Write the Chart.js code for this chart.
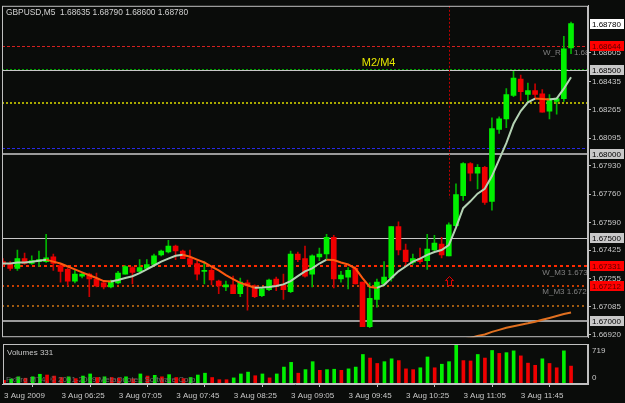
<!DOCTYPE html>
<html>
<head>
<meta charset="utf-8">
<title>GBPUSD,M5</title>
<script src="https://cdn.jsdelivr.net/npm/chart.js@4.4.0/dist/chart.umd.min.js"></script>
<style>
  html, body { margin: 0; padding: 0; background: #0a0c0a; }
  #wrap { position: relative; width: 625px; height: 403px; overflow: hidden; }
  #priceChart { position: absolute; left: 0; top: 0; }
  #volChart { position: absolute; left: 0; top: 343px; }
</style>
</head>
<body>
<div id="wrap">
  <canvas id="priceChart" width="625" height="343"></canvas>
  <canvas id="volChart" width="625" height="60"></canvas>
</div>
<script>
// GBPUSD M5, 3 Aug 2009 05:45 .. 12:20 (80 bars)

var opens = [1.67356,1.67345,1.67316,1.67374,1.67345,1.67356,1.67356,1.67385,1.67333,1.67310,
  1.67240,1.67269,1.67281,1.67252,1.67229,1.67205,1.67229,1.67281,1.67321,1.67298,
  1.67316,1.67339,1.67397,1.67414,1.67449,1.67420,1.67374,1.67345,1.67298,1.67304,
  1.67240,1.67205,1.67217,1.67165,1.67229,1.67211,1.67153,1.67188,1.67252,1.67217,
  1.67176,1.67402,1.67374,1.67281,1.67385,1.67402,1.67502,1.67252,1.67263,1.67316,
  1.67234,1.66967,1.67130,1.67223,1.67258,1.67566,1.67426,1.67351,1.67374,1.67362,
  1.67426,1.67461,1.67391,1.67571,1.67751,1.67943,1.67885,1.67920,1.67717,1.68147,
  1.68210,1.68350,1.68449,1.68356,1.68379,1.68361,1.68257,1.68315,1.68332,1.68635];
var highs = [1.67374,1.67356,1.67426,1.67408,1.67391,1.67420,1.67519,1.67402,1.67345,1.67316,
  1.67310,1.67287,1.67287,1.67287,1.67240,1.67246,1.67298,1.67333,1.67327,1.67368,
  1.67368,1.67402,1.67426,1.67484,1.67455,1.67426,1.67426,1.67362,1.67356,1.67316,
  1.67246,1.67240,1.67269,1.67258,1.67246,1.67217,1.67199,1.67252,1.67263,1.67281,
  1.67420,1.67414,1.67449,1.67397,1.67438,1.67519,1.67513,1.67298,1.67321,1.67327,
  1.67234,1.67229,1.67252,1.67356,1.67566,1.67595,1.67461,1.67402,1.67438,1.67519,
  1.67513,1.67502,1.67589,1.67821,1.67949,1.67949,1.67937,1.67926,1.68216,1.68222,
  1.68391,1.68495,1.68472,1.68425,1.68420,1.68385,1.68356,1.68338,1.68704,1.68790];
var lows = [1.67327,1.67304,1.67304,1.67339,1.67339,1.67327,1.67351,1.67304,1.67234,1.67211,
  1.67229,1.67258,1.67147,1.67205,1.67193,1.67199,1.67223,1.67281,1.67223,1.67292,
  1.67310,1.67333,1.67391,1.67408,1.67368,1.67374,1.67339,1.67246,1.67223,1.67217,
  1.67165,1.67182,1.67165,1.67147,1.67066,1.67141,1.67147,1.67182,1.67182,1.67130,
  1.67170,1.67356,1.67263,1.67205,1.67362,1.67374,1.67199,1.67234,1.67193,1.67223,
  1.66967,1.66961,1.67083,1.67211,1.67240,1.67397,1.67327,1.67339,1.67345,1.67310,
  1.67420,1.67379,1.67391,1.67560,1.67722,1.67839,1.67792,1.67699,1.67664,1.68123,
  1.68158,1.68344,1.68321,1.68309,1.68332,1.68251,1.68210,1.68239,1.68315,1.68600];
var closes = [1.67339,1.67316,1.67374,1.67345,1.67362,1.67368,1.67379,1.67345,1.67298,1.67240,
  1.67281,1.67281,1.67252,1.67211,1.67205,1.67240,1.67287,1.67327,1.67292,1.67321,
  1.67339,1.67391,1.67420,1.67449,1.67420,1.67374,1.67339,1.67281,1.67304,1.67246,
  1.67211,1.67217,1.67165,1.67234,1.67211,1.67147,1.67193,1.67246,1.67211,1.67188,
  1.67402,1.67368,1.67269,1.67391,1.67402,1.67502,1.67252,1.67275,1.67304,1.67223,
  1.66967,1.67136,1.67234,1.67263,1.67566,1.67426,1.67356,1.67374,1.67356,1.67432,
  1.67467,1.67397,1.67577,1.67757,1.67943,1.67885,1.67920,1.67711,1.68152,1.68210,
  1.68356,1.68454,1.68373,1.68379,1.68356,1.68251,1.68332,1.68332,1.68629,1.68780];

// fast moving average (colour follows its direction)
var maFast = [1.67345,1.67345,1.67351,1.67351,1.67356,1.67362,1.67368,1.67356,1.67345,1.67327,
  1.67310,1.67292,1.67275,1.67258,1.67240,1.67237,1.67246,1.67258,1.67269,1.67287,
  1.67310,1.67333,1.67356,1.67374,1.67391,1.67397,1.67385,1.67368,1.67351,1.67327,
  1.67304,1.67275,1.67252,1.67229,1.67215,1.67200,1.67202,1.67205,1.67210,1.67220,
  1.67240,1.67269,1.67298,1.67316,1.67345,1.67368,1.67366,1.67351,1.67339,1.67316,
  1.67258,1.67205,1.67199,1.67217,1.67258,1.67298,1.67327,1.67356,1.67374,1.67397,
  1.67414,1.67426,1.67455,1.67560,1.67676,1.67717,1.67763,1.67792,1.67868,1.67966,
  1.68065,1.68181,1.68257,1.68309,1.68332,1.68330,1.68327,1.68332,1.68391,1.68460];
// slow moving average, only its tail enters the window (bars 64..79)
var maSlowStart = 64;
var maSlow = [1.66890,1.66900,1.66912,1.66920,1.66936,1.66948,1.66960,1.66970,1.66979,
  1.66987,1.66996,1.67008,1.67019,1.67031,1.67043,1.67052];

var volumes = [67,93,133,107,133,180,166,147,120,133,
  100,147,186,120,133,120,107,133,93,186,
  147,160,133,173,120,100,120,166,200,120,
  80,79,113,186,220,153,186,113,186,313,
  400,200,266,413,253,266,273,253,280,313,
  546,480,380,413,466,433,280,266,300,500,
  300,366,413,719,433,426,546,480,620,566,
  580,613,520,386,346,466,380,300,613,331];

var timeTickBars = [0, 8, 16, 24, 32, 40, 48, 56, 64, 72];
var timeLabels = ['3 Aug 2009', '3 Aug 06:25', '3 Aug 07:05', '3 Aug 07:45', '3 Aug 08:25',
  '3 Aug 09:05', '3 Aug 09:45', '3 Aug 10:25', '3 Aug 11:05', '3 Aug 11:45'];
var priceTicks = [1.68605, 1.68435, 1.68265, 1.68095, 1.67930, 1.67760, 1.67590,
  1.67425, 1.67255, 1.67085, 1.66920];

// horizontal levels and the price boxes shown on the axis
var levelPrices = [1.68644, 1.68507, 1.68500, 1.68308, 1.68037, 1.68000, 1.67500, 1.67331, 1.67212, 1.67092, 1.67000];
var boxPrices = [1.68780, 1.68644, 1.68500, 1.68000, 1.67500, 1.67331, 1.67212, 1.67000];

var levelStyles = [
  { color: '#d42020', width: 1, dash: [3, 2] },
  { color: '#00a000', width: 1, dash: [2, 2] },
  { color: '#c8c8c8', width: 1, dash: [] },
  { color: '#a8a800', width: 2, dash: [2, 2] },
  { color: '#2a2ae6', width: 1, dash: [3, 2] },
  { color: '#9a9a9a', width: 2, dash: [] },
  { color: '#c8c8c8', width: 1, dash: [] },
  { color: '#ff2a00', width: 2, dash: [3, 3] },
  { color: '#c83c00', width: 2, dash: [2, 3] },
  { color: '#a05a10', width: 2, dash: [2, 3] },
  { color: '#9a9a9a', width: 2, dash: [] }
];
var boxStyles = [
  { bg: '#ffffff', fg: '#000000' },
  { bg: '#ff0000', fg: '#5a0000' },
  { bg: '#c8c8c8', fg: '#000000' },
  { bg: '#c8c8c8', fg: '#000000' },
  { bg: '#c8c8c8', fg: '#000000' },
  { bg: '#ff0000', fg: '#5a0000' },
  { bg: '#ff0000', fg: '#5a0000' },
  { bg: '#c8c8c8', fg: '#000000' }
];

// chart objects: text labels, arrow, vertical trend line (bar index, price)
var objTexts = [
  { text: 'M2/M4', bar: 49.9, price: 1.68542, color: '#e6e600', size: 11 },
  { text: 'W_R', bar: 75.1, price: 1.68607, color: '#808080', size: 8 },
  { text: '1.6864', bar: 79.4, price: 1.68607, color: '#808080', size: 8 },
  { text: 'W_M3 1.6733', bar: 75.0, price: 1.67290, color: '#808080', size: 8 },
  { text: 'M_M3 1.6721', bar: 75.0, price: 1.67176, color: '#808080', size: 8 }
];
var arrowBar = 62, arrowPrice = 1.67238;
var vlineBar = 62, vlineLow = 1.67735;

var X_MIN = -0.14, X_MAX = 81.36;
var Y_MIN = 1.66904, Y_MAX = 1.68887;
var FONT = '"Liberation Sans", Arial, sans-serif';

Chart.defaults.font.family = FONT;
Chart.defaults.font.size = 8;
Chart.defaults.color = '#c8c8c8';

var bars = closes.map(function (c, i) { return i; });
var isUp = bars.map(function (i) { return closes[i] >= opens[i]; });

var priceOverlay = {
  id: 'priceOverlay',
  beforeDatasetsDraw: function (chart) {
    var ctx = chart.ctx, a = chart.chartArea, xs = chart.scales.x, ys = chart.scales.y;
    ctx.save();
    ctx.beginPath();
    ctx.rect(a.left, a.top, a.right - a.left, a.bottom - a.top);
    ctx.clip();
    levelPrices.forEach(function (p, k) {
      var st = levelStyles[k];
      var py = Math.round(ys.getPixelForValue(p)) + (st.width % 2 ? 0.5 : 0);
      ctx.strokeStyle = st.color;
      ctx.lineWidth = st.width;
      ctx.setLineDash(st.dash);
      ctx.beginPath();
      ctx.moveTo(a.left, py);
      ctx.lineTo(a.right, py);
      ctx.stroke();
    });
    var vx = Math.round(xs.getPixelForValue(vlineBar)) + 0.5;
    ctx.strokeStyle = '#c00000';
    ctx.lineWidth = 1;
    ctx.setLineDash([2, 2]);
    ctx.beginPath();
    ctx.moveTo(vx, a.top);
    ctx.lineTo(vx, ys.getPixelForValue(vlineLow));
    ctx.stroke();
    ctx.restore();
  },
  afterDatasetsDraw: function (chart) {
    var ctx = chart.ctx, a = chart.chartArea, xs = chart.scales.x, ys = chart.scales.y;
    ctx.save();
    ctx.beginPath();
    ctx.rect(a.left, a.top, a.right - a.left, a.bottom - a.top);
    ctx.clip();
    ctx.textBaseline = 'middle';
    ctx.textAlign = 'left';
    objTexts.forEach(function (t) {
      ctx.font = t.size + 'px ' + FONT;
      ctx.fillStyle = t.color;
      ctx.fillText(t.text, xs.getPixelForValue(t.bar), ys.getPixelForValue(t.price));
    });
    // up arrow (outline)
    var ax = Math.round(xs.getPixelForValue(arrowBar)) + 0.5;
    var ay = Math.round(ys.getPixelForValue(arrowPrice)) + 0.5;
    ctx.strokeStyle = '#e00000';
    ctx.lineWidth = 1;
    ctx.beginPath();
    ctx.moveTo(ax, ay - 5);
    ctx.lineTo(ax + 4, ay - 1);
    ctx.lineTo(ax + 2, ay - 1);
    ctx.lineTo(ax + 2, ay + 4);
    ctx.lineTo(ax - 2, ay + 4);
    ctx.lineTo(ax - 2, ay - 1);
    ctx.lineTo(ax - 4, ay - 1);
    ctx.closePath();
    ctx.stroke();
    ctx.restore();
  },
  afterDraw: function (chart) {
    var ctx = chart.ctx, a = chart.chartArea, ys = chart.scales.y;
    ctx.save();
    ctx.strokeStyle = '#c0c0c0';
    ctx.lineWidth = 1;
    ctx.strokeRect(a.left + 0.5, a.top + 0.5, a.right - a.left - 1, a.bottom - a.top - 1);
    ctx.font = '8px ' + FONT;
    ctx.textBaseline = 'middle';
    ctx.textAlign = 'left';
    boxPrices.forEach(function (p, k) {
      var py = Math.round(ys.getPixelForValue(p));
      ctx.fillStyle = boxStyles[k].bg;
      ctx.fillRect(a.right + 2, py - 5, 34, 10);
      ctx.fillStyle = boxStyles[k].fg;
      ctx.fillText(p.toFixed(5), a.right + 4, py + 0.5);
    });
    ctx.fillStyle = '#d2d2d2';
    var last = closes.length - 1;
    var head = 'GBPUSD,M5  ' + [opens[last], highs[last], lows[last], closes[last]].map(function (v) {
      return v.toFixed(5);
    }).join(' ');
    ctx.font = '8.4px ' + FONT;
    ctx.fillText(head, a.left + 4, a.top + 7);
    ctx.restore();
  }
};

new Chart(document.getElementById('priceChart'), {
  type: 'bar',
  data: {
    datasets: [{
      label: 'wick',
      data: bars.map(function (i) { return { x: i, y: [lows[i], highs[i]] }; }),
      backgroundColor: isUp.map(function (u) { return u ? '#00b400' : '#c80000'; }),
      barThickness: 1,
      grouped: false,
      order: 4
    }, {
      label: 'body',
      data: bars.map(function (i) { return { x: i, y: [opens[i], closes[i]] }; }),
      backgroundColor: isUp.map(function (u) { return u ? '#00f000' : '#f00000'; }),
      barThickness: 5,
      grouped: false,
      order: 3
    }, {
      type: 'line',
      label: 'slow MA',
      data: maSlow.map(function (v, k) { return { x: maSlowStart + k, y: v }; }),
      borderColor: '#e07020',
      borderWidth: 2,
      pointRadius: 0,
      tension: 0,
      order: 2
    }, {
      type: 'line',
      label: 'fast MA',
      data: maFast.map(function (v, i) { return { x: i, y: v }; }),
      borderColor: '#b4d2b4',
      borderWidth: 2,
      pointRadius: 0,
      tension: 0,
      segment: {
        borderColor: function (c) { return c.p1.parsed.y < c.p0.parsed.y ? '#ff5a10' : '#b4d2b4'; }
      },
      order: 1
    }]
  },
  options: {
    responsive: false,
    animation: false,
    layout: { padding: { left: 2, top: 3, bottom: 1, right: 0 } },
    plugins: { legend: { display: false }, tooltip: { enabled: false } },
    scales: {
      x: { type: 'linear', min: X_MIN, max: X_MAX, offset: false, display: false },
      y: {
        position: 'right',
        min: Y_MIN,
        max: Y_MAX,
        beginAtZero: false,
        afterFit: function (s) { s.width = 37; },
        afterBuildTicks: function (s) { s.ticks = priceTicks.map(function (v) { return { value: v }; }); },
        ticks: {
          autoSkip: false,
          padding: 1,
          color: '#c8c8c8',
          callback: function (v) { return v.toFixed(5); }
        },
        grid: { drawOnChartArea: false, tickLength: 3, color: '#c0c0c0' },
        border: { color: '#c0c0c0' }
      }
    }
  },
  plugins: [priceOverlay]
});

var volOverlay = {
  id: 'volOverlay',
  afterDraw: function (chart) {
    var ctx = chart.ctx, a = chart.chartArea;
    ctx.save();
    ctx.strokeStyle = '#c0c0c0';
    ctx.lineWidth = 1;
    ctx.strokeRect(a.left + 0.5, a.top + 0.5, a.right - a.left - 1, a.bottom - a.top - 1);
    ctx.font = '8px ' + FONT;
    ctx.textBaseline = 'middle';
    ctx.textAlign = 'left';
    ctx.fillStyle = '#c8c8c8';
    ctx.fillText('Volumes ' + volumes[volumes.length - 1], a.left + 4, a.top + 9);
    ctx.fillText(String(Math.max.apply(null, volumes)), a.right + 4, a.top + 7);
    ctx.fillText('0', a.right + 4, a.bottom - 6);
    ctx.fillStyle = '#6e6e6e';
    ctx.fillText('FxPro MT4, \u00a9 2001-2009 MetaQuotes Software Corp.', a.left + 3, a.bottom - 4);
    ctx.restore();
  }
};

new Chart(document.getElementById('volChart'), {
  type: 'bar',
  data: {
    datasets: [{
      label: 'Volumes',
      data: volumes.map(function (v, i) { return { x: i, y: v }; }),
      backgroundColor: volumes.map(function (v, i) { return i > 0 && v > volumes[i - 1] ? '#00f000' : '#f00000'; }),
      barThickness: 3,
      grouped: false
    }]
  },
  options: {
    responsive: false,
    animation: false,
    layout: { padding: { left: 2, top: 1, bottom: 0, right: 0 } },
    plugins: { legend: { display: false }, tooltip: { enabled: false } },
    scales: {
      x: {
        type: 'linear', min: X_MIN, max: X_MAX, offset: false,
        afterFit: function (s) { s.height = 19; },
        afterBuildTicks: function (s) { s.ticks = timeTickBars.map(function (v) { return { value: v }; }); },
        ticks: {
          autoSkip: false,
          maxRotation: 0,
          align: 'start',
          padding: 4,
          color: '#c8c8c8',
          callback: function (v) { return timeLabels[timeTickBars.indexOf(v)]; }
        },
        grid: { drawOnChartArea: false, tickLength: 3, color: '#c0c0c0' },
        border: { color: '#c0c0c0' }
      },
      y: {
        position: 'right',
        min: 0,
        max: 740,
        afterFit: function (s) { s.width = 37; },
        ticks: { display: false },
        grid: { drawOnChartArea: false, drawTicks: false },
        border: { color: '#c0c0c0' }
      }
    }
  },
  plugins: [volOverlay]
});
</script>
</body>
</html>
